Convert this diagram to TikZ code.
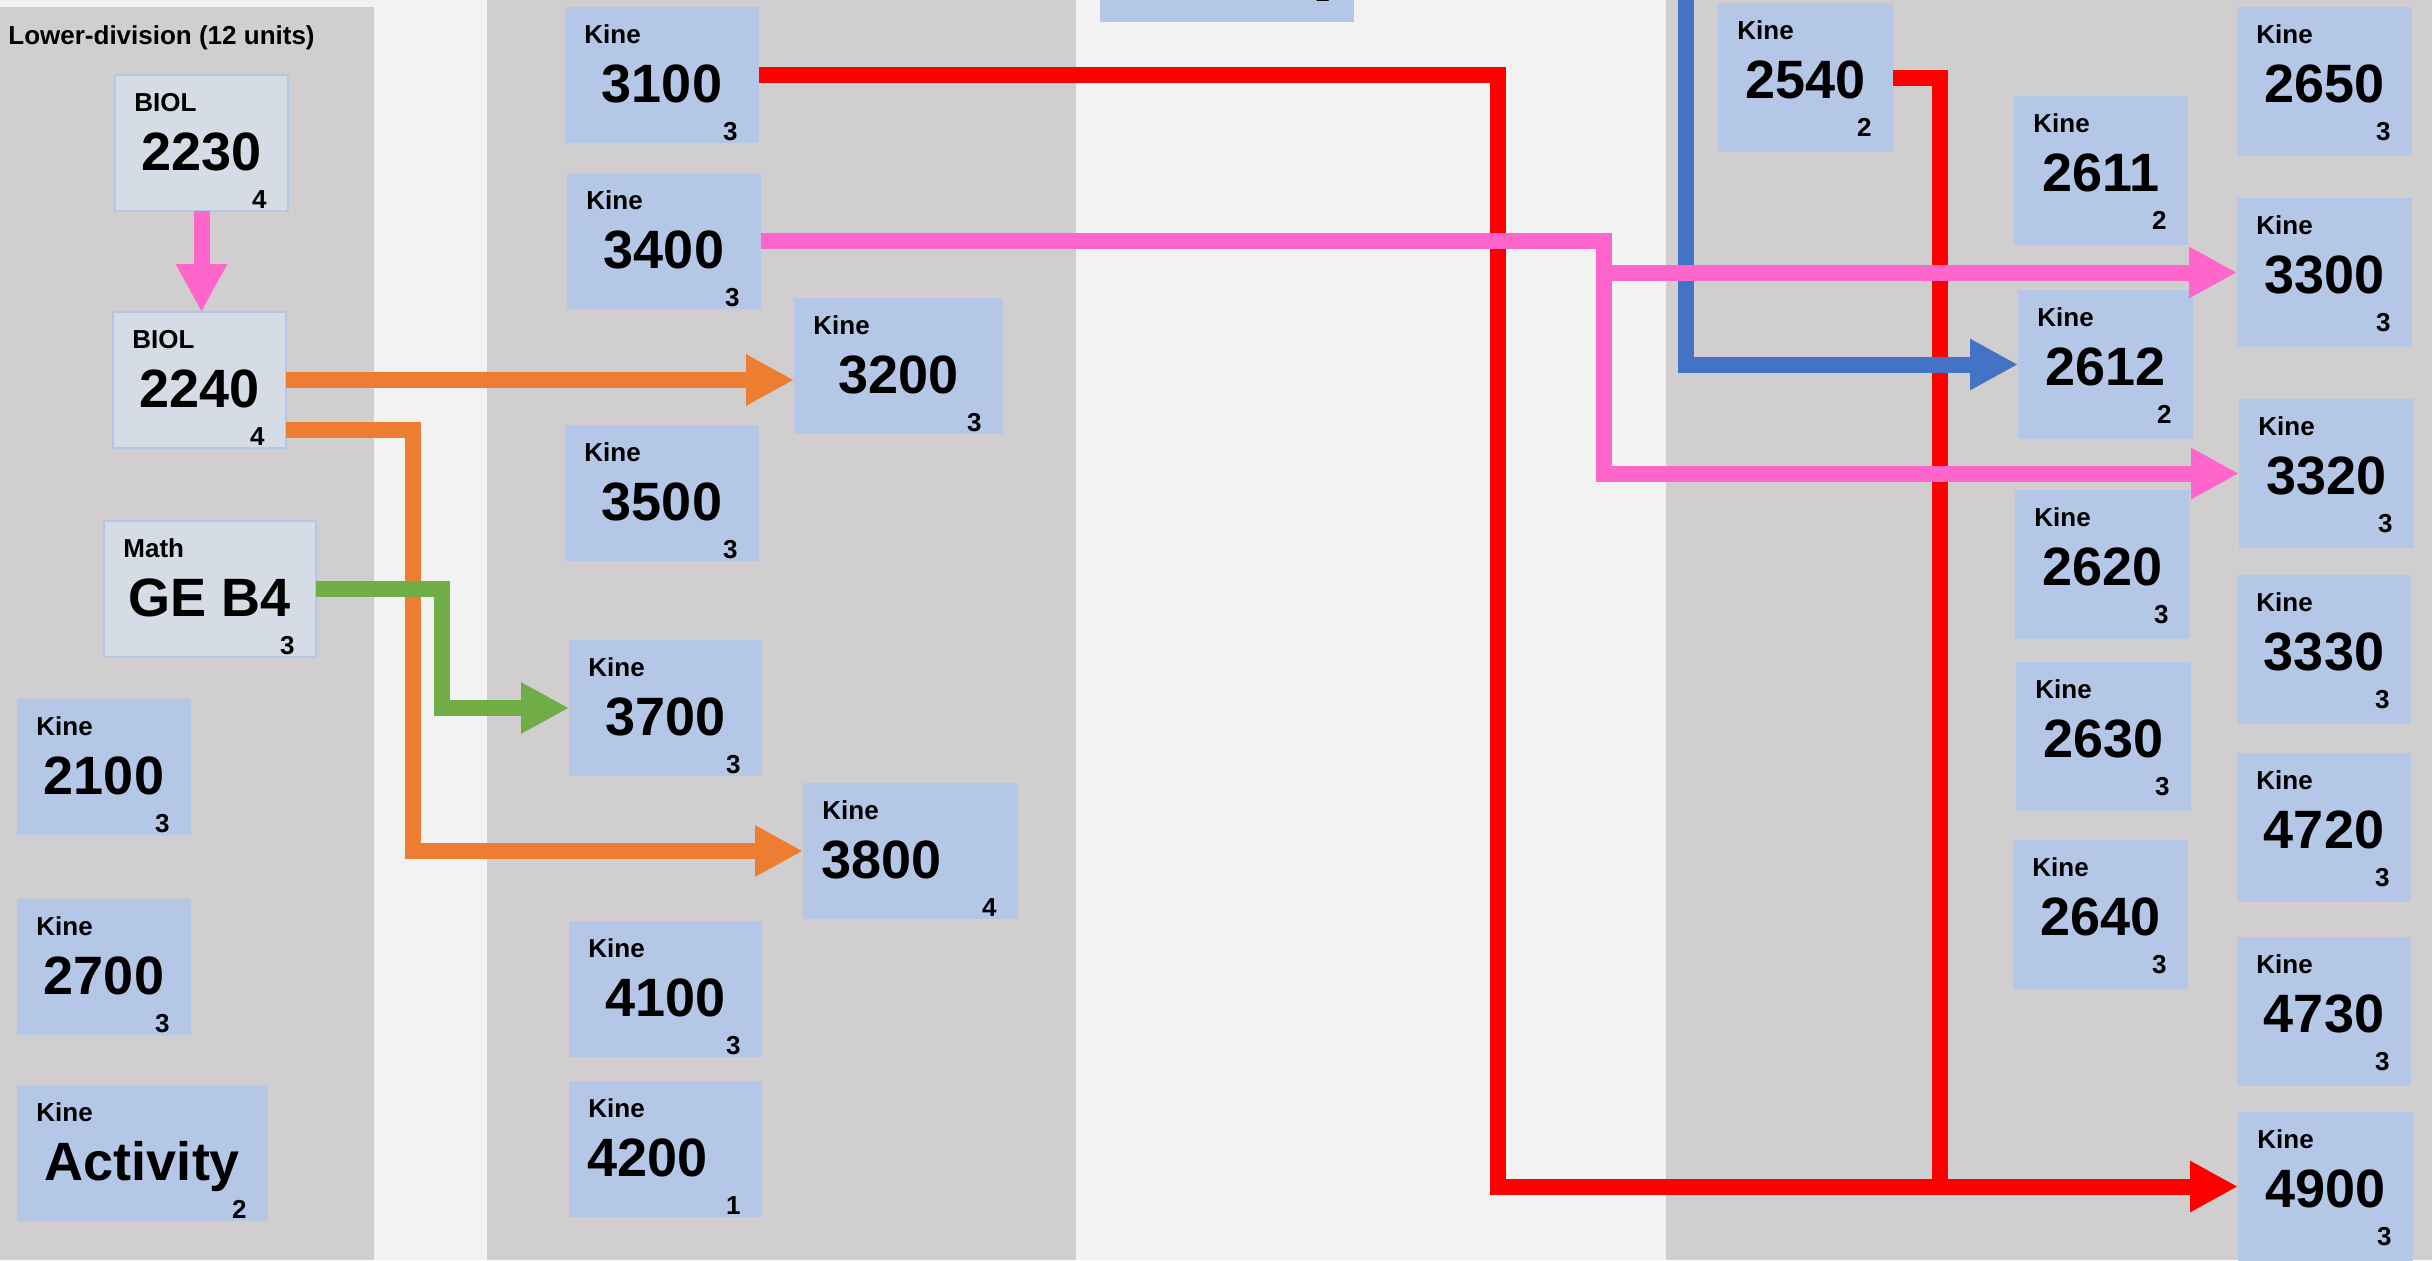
\documentclass[tikz,border=0pt]{standalone}
\usepackage{fontspec}
\setmainfont{Liberation Sans}
\usetikzlibrary{positioning, arrows.meta}

\begin{document}
\begin{tikzpicture}[x=0.5pt,y=-0.5pt,
  course/.style={anchor=north west, rectangle, fill=boxColor, inner sep=0pt, outer sep=0pt,
    minimum height=68pt, text height=27pt, text depth=0pt,
    font=\fontsize{27pt}{27pt}\selectfont\bfseries},
  tall/.style={minimum height=74.5pt, text height=20.5pt},
  prereq/.style={fill=prereqColor, draw=boxColor, line width=0.75pt},
  leftnum/.style={inner xsep=9pt, align=left, text width=#1},
  dept/.style={anchor=base west, inner sep=0pt, xshift=9.5pt, yshift=-18pt,
    font=\fontsize{13pt}{13pt}\selectfont\bfseries},
  credit/.style={anchor=base east, inner sep=0pt, xshift=-10.5pt, yshift=-66.5pt,
    font=\fontsize{13pt}{13pt}\selectfont\bfseries},
  link/.style={draw=#1, line width=8pt},
  tip/.style={-{Triangle[length=24pt,width=24pt]}}
]
\definecolor{bgColor}{RGB}{242,242,242}
\definecolor{colColor}{RGB}{208,206,206}
\definecolor{boxColor}{RGB}{180,199,231}
\definecolor{prereqColor}{RGB}{214,220,229}
\definecolor{redColor}{RGB}{255,0,0}
\definecolor{orangeColor}{RGB}{237,125,49}
\definecolor{greenColor}{RGB}{112,173,71}
\definecolor{blueColor}{RGB}{68,114,196}
\definecolor{pinkColor}{RGB}{255,102,204}

\path[use as bounding box,fill=bgColor] (0,0) rectangle (2432,1260);
\begin{scope}
\path[clip] (0,0) rectangle (2432,1260);

% columns
\path[fill=colColor] (0,7) rectangle (374,1260);
\path[fill=colColor] (487,0) rectangle (1076,1260);
\path[fill=colColor] (1666,0) rectangle (2432,1260);

% lower division
\node[anchor=base west, inner sep=0pt, font=\fontsize{13pt}{13pt}\selectfont\bfseries] (lowdiv) at (8,44.5) {Lower-division (12 units)};

\node[course, prereq, minimum width=86.5pt, label={[dept]north west:BIOL}, label={[credit]north east:4}] (b2230) at (115,75) {2230};
\node[course, prereq, minimum width=86.5pt, label={[dept]north west:BIOL}, label={[credit]north east:4}] (b2240) at (113,312) {2240};
\node[course, prereq, minimum width=106pt, label={[dept]north west:Math}, label={[credit]north east:3}] (mge) at (104,521) {GE B4};
\node[course, minimum width=87pt, label={[dept]north west:Kine}, label={[credit]north east:3}] (k2100) at (17,699) {2100};
\node[course, minimum width=87pt, label={[dept]north west:Kine}, label={[credit]north east:3}] (k2700) at (17,899) {2700};
\node[course, minimum width=125.5pt, label={[dept]north west:Kine}, label={[credit]north east:2}] (kact) at (17,1085) {Activity};

% upper division core
\node[course, minimum width=97pt, label={[dept]north west:Kine}, label={[credit]north east:3}] (k3100) at (565,7) {3100};
\node[course, minimum width=97pt, label={[dept]north west:Kine}, label={[credit]north east:3}] (k3400) at (567,173) {3400};
\node[course, minimum width=104.5pt, label={[dept]north west:Kine}, label={[credit]north east:3}] (k3200) at (794,298) {3200};
\node[course, minimum width=97pt, label={[dept]north west:Kine}, label={[credit]north east:3}] (k3500) at (565,425) {3500};
\node[course, minimum width=96.5pt, label={[dept]north west:Kine}, label={[credit]north east:3}] (k3700) at (569,640) {3700};
\node[course, leftnum=89.5pt, label={[dept]north west:Kine}, label={[credit]north east:4}] (k3800) at (803,783) {3800};
\node[course, minimum width=96.5pt, label={[dept]north west:Kine}, label={[credit]north east:3}] (k4100) at (569,921) {4100};
\node[course, leftnum=78.5pt, label={[dept]north west:Kine}, label={[credit]north east:1}] (k4200) at (569,1081) {4200};

\node[course, tall, minimum width=127pt, label={[credit, xshift=-1.5pt, yshift=2.5pt]north east:1}] (ktop) at (1100,-127) {};

% electives
\node[course, tall, minimum width=87.5pt, label={[dept]north west:Kine}, label={[credit]north east:2}] (k2540) at (1718,3) {2540};
\node[course, tall, minimum width=87pt, label={[dept]north west:Kine}, label={[credit]north east:2}] (k2611) at (2014,96) {2611};
\node[course, tall, minimum width=87.5pt, label={[dept]north west:Kine}, label={[credit]north east:3}] (k2650) at (2237,7) {2650};
\node[course, tall, minimum width=87.5pt, label={[dept]north west:Kine}, label={[credit]north east:3}] (k3300) at (2237,198) {3300};
\node[course, tall, minimum width=87.5pt, label={[dept]north west:Kine}, label={[credit]north east:2}] (k2612) at (2018,290) {2612};
\node[course, tall, minimum width=87.5pt, label={[dept]north west:Kine}, label={[credit]north east:3}] (k3320) at (2239,399) {3320};
\node[course, tall, minimum width=87.5pt, label={[dept]north west:Kine}, label={[credit]north east:3}] (k2620) at (2015,490) {2620};
\node[course, tall, minimum width=87pt, label={[dept]north west:Kine}, label={[credit]north east:3}] (k3330) at (2237,575) {3330};
\node[course, tall, minimum width=87.5pt, label={[dept]north west:Kine}, label={[credit]north east:3}] (k2630) at (2016,662) {2630};
\node[course, tall, minimum width=87pt, label={[dept]north west:Kine}, label={[credit]north east:3}] (k4720) at (2237,753) {4720};
\node[course, tall, minimum width=87.5pt, label={[dept]north west:Kine}, label={[credit]north east:3}] (k2640) at (2013,840) {2640};
\node[course, tall, minimum width=87pt, label={[dept]north west:Kine}, label={[credit]north east:3}] (k4730) at (2237,937) {4730};
\node[course, tall, minimum width=87.5pt, label={[dept]north west:Kine}, label={[credit]north east:3}] (k4900) at (2238,1112) {4900};

% connectors
\coordinate (redx) at (1498,75);
\coordinate (redy) at (1940,77);
\path[link=redColor, tip] (k3100.east) -- (redx) -- (redx |- k4900.west) -- (k4900.west);
\path[link=redColor] (k2540.east) -| (redy |- k4900.west);

\coordinate (orx) at (413,430);
\path[link=orangeColor, tip] (b2240.east) -- (b2240.east -| k3200.west);
\path[link=orangeColor, tip] (b2240.east |- orx) -- (orx) |- (k3800.west);

\coordinate (grx) at (442,589);
\path[link=greenColor, tip] (mge.east) -- (grx) |- (k3700.west);

\coordinate (bltop) at (1686,-20);
\path[link=blueColor, tip] (bltop) |- (k2612.west);

\coordinate (pkx) at (1604,241);
\path[link=pinkColor, tip] (b2230.south) -- (b2230.south |- b2240.north);
\path[link=pinkColor, tip] (k3400.east) -- (pkx) |- (k3320.west);
\path[link=pinkColor, tip] (pkx |- k3300.west) -- (k3300.west);
\end{scope}
\end{tikzpicture}
\end{document}
